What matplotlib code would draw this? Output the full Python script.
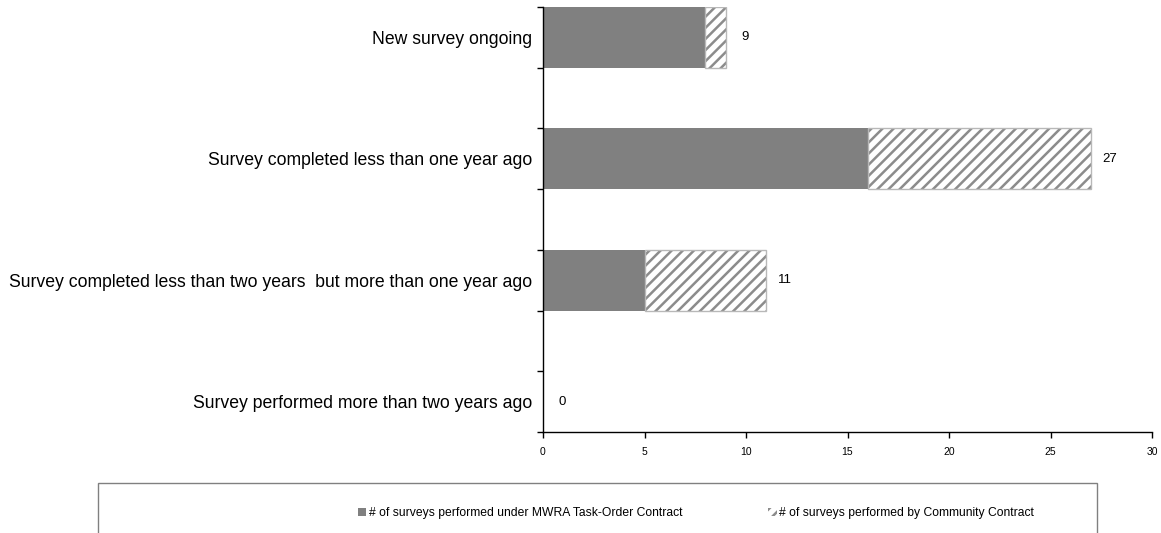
import matplotlib
matplotlib.use("Agg")
import matplotlib.pyplot as plt
from matplotlib.patches import Rectangle, Patch

plt.rcParams['font.family'] = ['Liberation Sans', 'DejaVu Sans']
plt.rcParams['hatch.linewidth'] = 1.8

categories = [
    "New survey ongoing",
    "Survey completed less than one year ago",
    "Survey completed less than two years  but more than one year ago",
    "Survey performed more than two years ago",
]
mwra = [8, 16, 5, 0]
community = [1, 11, 6, 0]
totals = [9, 27, 11, 0]
series_names = ["# of surveys performed under MWRA Task-Order Contract",
                "# of surveys performed by Community Contract"]
xticks = [0, 5, 10, 15, 20, 25, 30]

fig = plt.figure(figsize=(11.61, 5.33), dpi=100)
ax = fig.add_axes([543/1161, 1-432/533, (1152-543)/1161, (432-7)/533])

pos = [0, 2, 4, 6]
ax.barh(pos, mwra, height=1.0, color='#808080', edgecolor='none')
ax.barh(pos, community, left=mwra, height=1.0, color='white',
        edgecolor='#8c8c8c', hatch='///', linewidth=0)
for p, m, c in zip(pos, mwra, community):
    if c > 0:
        ax.add_patch(Rectangle((m, p-0.5), c, 1.0, fill=False,
                               edgecolor='#b8b8b8', linewidth=1.0))
for p, t in zip(pos, totals):
    ax.annotate(str(t), (t, p), xytext=(13.7, 0), textcoords='offset points',
                va='center', ha='center', fontsize=9.5)

ax.set_xlim(0, 30)
ax.set_ylim(6.5, -0.5)
ax.set_xticks(xticks)
ax.set_xticklabels([str(x) for x in xticks], fontsize=7.5)
ax.set_yticks(pos)
ax.set_yticklabels(categories, fontsize=12.7)
ax.set_yticks([i - 0.5 for i in range(8)], minor=True)
ax.tick_params(axis='y', which='major', length=0, pad=8)
ax.tick_params(axis='y', which='minor', length=4, direction='out', width=1)
ax.tick_params(axis='x', length=4, direction='out', width=1, pad=7)
for s in ['top', 'right']:
    ax.spines[s].set_visible(False)
ax.spines['left'].set_linewidth(1)
ax.spines['bottom'].set_linewidth(1)

fig.patches.append(Rectangle((98/1161, -0.05), 999/1161, 0.05 + (533-483)/533,
                             transform=fig.transFigure, fill=False,
                             edgecolor='#808080', linewidth=1))
handles = [Patch(facecolor='#808080', edgecolor='none'),
           Patch(facecolor='white', edgecolor='#8c8c8c', hatch='///', linewidth=0)]
fig.legend(handles, series_names, loc='center', bbox_to_anchor=(696/1161, 1-513/533),
           ncol=2, frameon=False, fontsize=8.7, handlelength=0.7, handleheight=0.7,
           handletextpad=0.2, columnspacing=7.1)

fig.savefig("out.png", dpi=100)
